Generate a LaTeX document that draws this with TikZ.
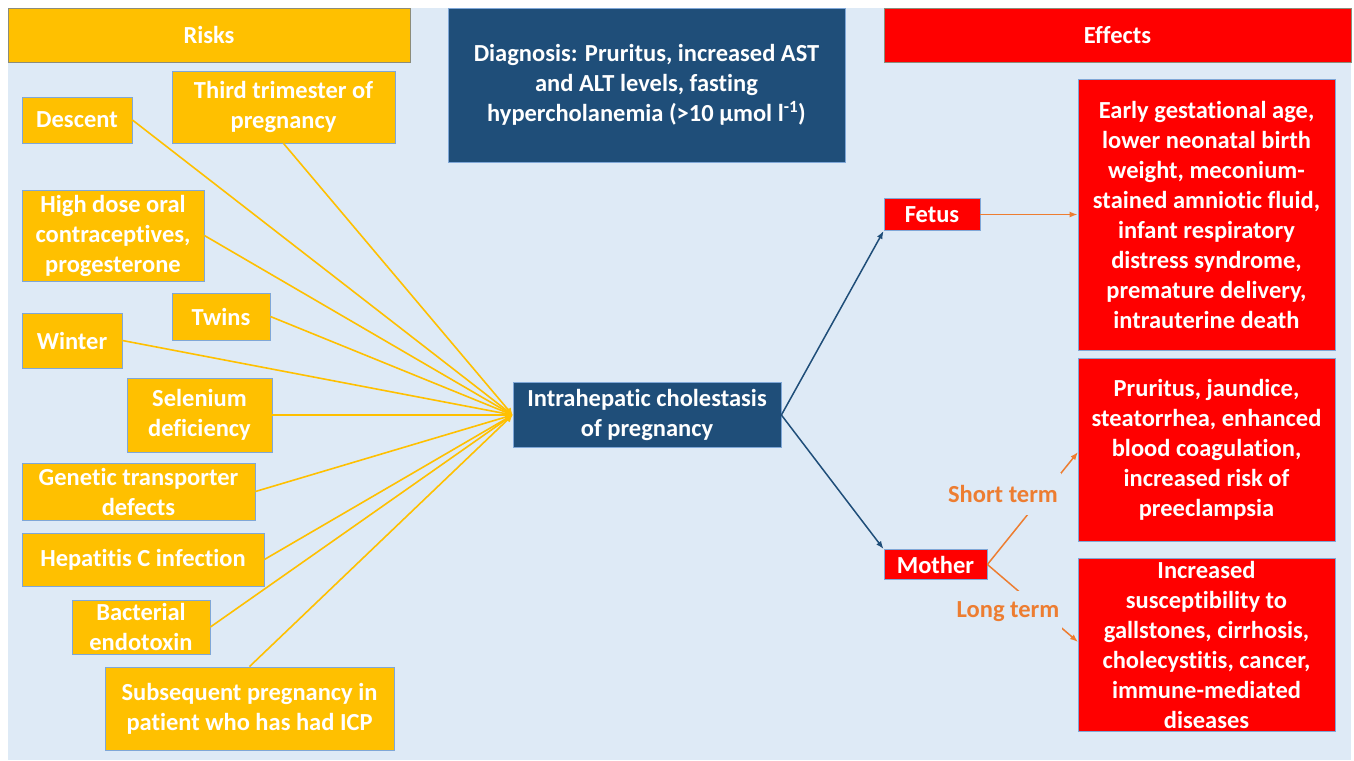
\documentclass[tikz,border=0pt]{standalone}
\usepackage{fontspec}
\setmainfont{Carlito}[Ligatures=NoCommon]
\usepackage{xcolor}
\definecolor{icpBack}{HTML}{DEEAF6}
\definecolor{icpYellow}{HTML}{FFC000}
\definecolor{icpNavy}{HTML}{1F4E79}
\definecolor{icpRed}{HTML}{FF0000}
\definecolor{icpOrange}{HTML}{ED7D31}
\definecolor{icpEdge}{HTML}{7FA7D7}
\definecolor{icpHead}{HTML}{8C8C7A}
\usepackage{tikz}
\usetikzlibrary{shapes}
\usetikzlibrary{arrows.meta}
\tikzstyle{box} = [rectangle, inner sep=0pt, align=center, text=white,
        font={\fontsize{24.5}{30}\selectfont\bfseries}, line width=0.8pt]
\tikzstyle{risk} = [box, fill=icpYellow, draw=icpEdge]
\tikzstyle{head} = [box, draw=icpHead, minimum height=54pt]
\tikzstyle{main} = [box, fill=icpNavy, draw=icpEdge]
\tikzstyle{effect} = [box, fill=icpRed, draw=icpEdge]
\tikzstyle{term} = [inner xsep=3pt, inner ysep=0pt, minimum height=42pt, fill=icpBack,
        text=icpOrange, font={\fontsize{24.5}{30}\selectfont\bfseries}]
\tikzstyle{feed} = [draw=icpYellow, line width=1.6pt, -{Latex[length=7pt,width=7pt]}]
\tikzstyle{split} = [draw=icpNavy, line width=1.5pt, -{Latex[length=8pt,width=6pt]}]
\tikzstyle{lead} = [draw=icpOrange, line width=1.5pt, -{Latex[length=8pt,width=6pt]}]

\begin{document}
\begin{tikzpicture}[x=1pt, y=-1pt]
            \useasboundingbox (0,0) rectangle (1354,760);
            \fill[icpBack] (8,8) rectangle (1351,760);
            \node [head, fill=icpYellow, minimum width=402pt] (risks) at (209,35) {Risks};
            \node [head, fill=icpRed, minimum width=467pt] (effects) at (1117.5,35) {Effects};
            \node [main, minimum width=397pt, minimum height=154pt] (diag) at (646.5,85)
                {Diagnosis: Pruritus, increased AST\\and ALT levels, fasting\\hypercholanemia (>10 µmol l\textsuperscript{-1})};
            \node [main, minimum width=268pt, minimum height=65pt] (icp) at (647,415)
                {Intrahepatic cholestasis\\of pregnancy};
            \node [risk, minimum width=223pt, minimum height=72pt] (third) at (283.5,107) {Third trimester of\\pregnancy};
            \node [risk, minimum width=110pt, minimum height=46pt] (descent) at (77,120) {Descent};
            \node [risk, minimum width=182pt, minimum height=91pt] (oral) at (113,235.5) {High dose oral\\contraceptives,\\progesterone};
            \node [risk, minimum width=98pt, minimum height=47pt] (twins) at (221,316.5) {Twins};
            \node [risk, minimum width=100pt, minimum height=55pt] (winter) at (72,340.5) {Winter};
            \node [risk, minimum width=145pt, minimum height=74pt] (selenium) at (199.5,415) {Selenium\\deficiency};
            \node [risk, minimum width=233pt, minimum height=57pt] (genetic) at (138.5,491.5) {Genetic transporter\\defects};
            \node [risk, minimum width=242pt, minimum height=53pt] (hepc) at (143,559.5) {Hepatitis C infection};
            \node [risk, minimum width=138pt, minimum height=54pt] (endotoxin) at (141,627) {Bacterial\\endotoxin};
            \node [risk, minimum width=289pt, minimum height=83pt] (repeat) at (249.5,708.5) {Subsequent pregnancy in\\patient who has had ICP};
            \node [effect, minimum width=96pt, minimum height=32pt] (fetus) at (932,214.5) {Fetus};
            \node [effect, minimum width=103pt, minimum height=30pt] (mother) at (935.5,564.5) {Mother};
            \node [effect, minimum width=257pt, minimum height=271pt] (fetal) at (1206.5,214.5)
                {Early gestational age,\\lower neonatal birth\\weight, meconium-\\stained amniotic fluid,\\infant respiratory\\distress syndrome,\\premature delivery,\\intrauterine death};
            \node [effect, minimum width=257pt, minimum height=183pt] (short) at (1206.5,450)
                {Pruritus, jaundice,\\steatorrhea, enhanced\\blood coagulation,\\increased risk of\\preeclampsia};
            \node [effect, minimum width=257pt, minimum height=173pt] (long) at (1206.5,644.5)
                {Increased\\susceptibility to\\gallstones, cirrhosis,\\cholecystitis, cancer,\\immune-mediated\\diseases};
            \coordinate (shortIn) at (1078,452);
            \coordinate (longIn) at (1078,642);
            \foreach \src/\anc in {descent/east, third/south, oral/east, twins/east, winter/east,
                    selenium/east, genetic/east, hepc/east, endotoxin/east, repeat/north}
                \draw [feed] (\src.\anc) -- (icp.west);
            \draw [split] (icp.east) -- (fetus.south west);
            \draw [split] (icp.east) -- (mother.north west);
            \draw [lead] (fetus.east) -- (fetal.west);
            \draw [lead] (mother.east) -- (shortIn);
            \draw [lead] (mother.east) -- (longIn);
            \node [term] (shortLbl) at (1003,494) {Short term};
            \node [term] (longLbl) at (1008,612) {Long term};
        \end{tikzpicture}
\end{document}
